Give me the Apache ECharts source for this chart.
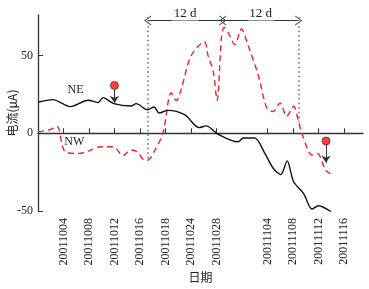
<!DOCTYPE html>
<html>
<head>
<meta charset="utf-8">
<script src="https://cdn.jsdelivr.net/npm/echarts@6/dist/echarts.min.js"></script>
<style>html,body{margin:0;padding:0;background:#fff}#c{width:369px;height:289px}</style>
</head>
<body>
<div id="c"></div>
<script>
// tick positions (day index) and their labels
var tickPos = [4, 8, 12, 16, 20, 24, 28, 36, 40, 44, 48];
var tickLabels = ['20011004','20011008','20011012','20011016','20011018','20011024','20011028','20011104','20011108','20011112','20011116'];
var yTicks = [-50, 0, 50];

// NE series (black solid)
var neDays = [0, 2.3, 5.1, 7.9, 9.4, 10.2, 11.9, 14.6, 15.4, 17.2, 18.2, 19.0, 20.4, 23.0, 25.3, 26.4, 28.2, 31.4, 32.2, 34.0, 35.6, 36.9, 38.1, 39.1, 40.1, 41.7, 43.0, 44.0, 46.0];
var neValues = [19.9, 21.6, 17.1, 21.2, 19.7, 22.9, 19.0, 17.5, 19.0, 15.1, 16.9, 13.0, 14.7, 11.9, 3.6, 4.7, -0.5, -5.5, -3.1, -3.1, -13, -22.5, -26.6, -17.8, -31, -39, -48.7, -46.6, -50.5];

// NW series (red dashed)
var nwDays = [0, 1.7, 3.0, 3.8, 4.3, 6.4, 8.0, 9.8, 11.4, 12.2, 13.3, 14.6, 15.6, 16.7, 17.2, 18.2, 19.6, 20.9, 21.7, 22.5, 24.0, 26.1, 26.7, 27.5, 28.1, 28.8, 29.2, 29.8, 30.9, 31.9, 33.0, 34.6, 35.9, 36.9, 38.0, 39.0, 40.1, 40.9, 41.4, 43.0, 43.9, 44.5, 45.1, 45.9];
var nwValues = [1.0, 2.1, 4.3, -7.6, -12, -13, -11.3, -8.7, -8.7, -9.5, -14.4, -10.8, -12, -17.3, -17.3, -12, 0, 26, 21, 28.8, 49.5, 58.8, 49.7, 39.8, 21, 62, 68, 65, 57, 67, 56, 36.8, 16.2, 14, 19.5, 10.8, 17.3, 7.3, 0, -14, -13, -17.3, -23.8, -26];

// event markers: day, circle value, arrow target value
var eventDays = [12.0, 45.2];
var eventTop = [30.7, -5];
var eventTarget = [19.5, -19];

// 12-day spans
var spanDays = [17.2, 29.0, 40.9];
var spanY = 72.5;
var spanBottoms = [-17.3, 7.3];

var FONT = "Liberation Serif";
var CJK = "Noto Sans CJK SC";

function zip(a, b){ return a.map(function(v,i){ return [v, b[i]]; }); }

var chart = echarts.init(document.getElementById('c'));

var arrowData = eventDays.map(function(d,i){
  return [{coord:[d, eventTop[i]-2.5]}, {coord:[d, eventTarget[i]]}];
});
var spanLines = [];
for (var i = 0; i < spanDays.length - 1; i++) {
  spanLines.push([{coord:[spanDays[i], spanY]}, {coord:[spanDays[i+1], spanY]}]);
}
var dotted = [[{coord:[spanDays[0], spanY+2]}, {coord:[spanDays[0], spanBottoms[0]]}],
              [{coord:[spanDays[2], spanY+2]}, {coord:[spanDays[2], spanBottoms[1]]}]];

var chev = 'path://M0,10 L5,0 L10,10 L9,10 L5,2 L1,10 Z';

var option = {
  animation: false,
  grid: {left: 38, top: 15, right: 6, bottom: 78, outerBoundsMode: 'none', containLabel: false},
  xAxis: {
    type: 'value', min: 0, max: 51,
    axisLine: {lineStyle: {color: '#333', width: 1.3}},
    splitLine: {show: false},
    axisTick: {inside: true, length: 5, customValues: tickPos, lineStyle:{color:'#333'}},
    axisLabel: {
      customValues: tickPos, rotate: 90, margin: 7,
      fontFamily: FONT, fontSize: 12, color: '#222',
      formatter: function(v){ var k = tickPos.indexOf(v); return k >= 0 ? tickLabels[k] : ''; }
    },
    name: '日期', nameLocation: 'middle', nameGap: 60, nameMoveOverlap: false,
    nameTextStyle: {fontFamily: CJK, fontSize: 12, color: '#222'}
  },
  yAxis: {
    type: 'value', min: -50, max: 76, interval: 50,
    axisLine: {show: true, lineStyle: {color: '#333', width: 1.3}},
    splitLine: {show: false},
    axisTick: {show: true, inside: true, length: 5, customValues: yTicks, lineStyle:{color:'#333'}},
    axisLabel: {customValues: yTicks, fontFamily: FONT, fontSize: 12, color: '#222', margin: 5},
    name: '电流(μA)', nameLocation: 'middle', nameGap: 20, nameMoveOverlap: false,
    nameTextStyle: {fontFamily: CJK, fontSize: 12, color: '#222'}
  },
  series: [
    {
      type: 'line', name: 'NE', data: zip(neDays, neValues), showSymbol: false, smooth: 0.3,
      lineStyle: {color: '#111', width: 1.4}, z: 3,
      markPoint: {symbol: 'rect', symbolSize: 0, data: [{coord:[5.9, 28], value:'NE'}],
        label: {show: true, formatter: 'NE', fontFamily: FONT, fontSize: 12, color: '#222'}}
    },
    {
      type: 'line', name: 'NW', data: zip(nwDays, nwValues), showSymbol: false, smooth: 0.3,
      lineStyle: {color: '#ee2030', width: 1.4, type: [6, 4]}, z: 2,
      markPoint: {symbol: 'rect', symbolSize: 0, data: [{coord:[5.7, -5.6], value:'NW'}],
        label: {show: true, formatter: 'NW', fontFamily: FONT, fontSize: 12, color: '#222'}}
    },
    {
      type: 'scatter', data: zip(eventDays, eventTop), symbol: 'circle', symbolSize: 8, z: 5,
      itemStyle: {color: '#e8141c', borderColor: '#7a0000', borderWidth: 0.8},
      markLine: {silent: true, symbol: ['none', 'arrow'], symbolSize: 7, data: arrowData,
        lineStyle: {color: '#333', width: 1, type: 'solid'}, label: {show: false}}
    },
    {
      type: 'line', data: [],
      markLine: {silent: true, symbol: [chev, chev],
        symbolSize: [10, 7], data: spanLines,
        lineStyle: {color: '#333', width: 1, type: 'solid'},
        label: {show: true, position: 'middle', formatter: '12 d', fontFamily: FONT, fontSize: 13, color: '#222',
          backgroundColor: '#fff', padding: [0, 2], distance: 0}}
    },
    {
      type: 'line', data: [],
      markLine: {silent: true, symbol: ['none','none'], data: dotted,
        lineStyle: {color: '#666', width: 1.5, type: [1.5, 3]}, label: {show: false}}
    }
  ]
};
chart.setOption(option);
</script>
</body>
</html>
